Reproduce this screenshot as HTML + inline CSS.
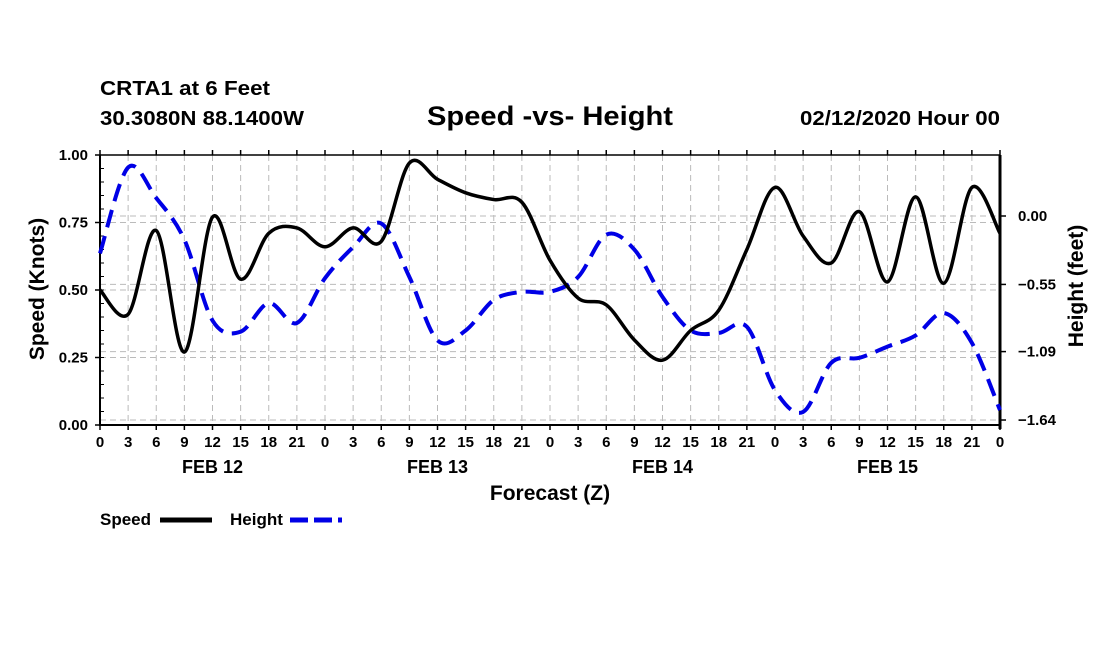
<!DOCTYPE html>
<html><head><meta charset="utf-8"><style>
body{margin:0;background:#fff;width:1100px;height:650px;overflow:hidden}
svg{font-family:"Liberation Sans",Arial,sans-serif;font-weight:bold}
</style></head><body>
<svg id="chart" width="1100" height="650" xmlns="http://www.w3.org/2000/svg">
<text x="100" y="95" font-size="20" textLength="170" lengthAdjust="spacingAndGlyphs">CRTA1 at 6 Feet</text>
<text x="100" y="125" font-size="20" textLength="204" lengthAdjust="spacingAndGlyphs">30.3080N 88.1400W</text>
<text x="427" y="125" font-size="27" textLength="246" lengthAdjust="spacingAndGlyphs">Speed -vs- Height</text>
<text x="800" y="125" font-size="20" textLength="200" lengthAdjust="spacingAndGlyphs">02/12/2020 Hour 00</text>
<g id="grid"></g>
<g id="axes"></g>
<g id="series"></g>
<text transform="translate(44,289) rotate(-90)" font-size="21" text-anchor="middle">Speed (Knots)</text>
<text transform="translate(1083,286) rotate(-90)" font-size="21" text-anchor="middle">Height (feet)</text>
<text x="550" y="500" font-size="21" text-anchor="middle">Forecast (Z)</text>
<g>
<text x="100" y="525" font-size="17">Speed</text>
<line x1="160" y1="520" x2="212" y2="520" stroke="#000" stroke-width="5"/>
<text x="230" y="525" font-size="17">Height</text>
<line x1="290" y1="520" x2="342" y2="520" stroke="#0000e6" stroke-width="5" stroke-dasharray="18,6"/>
</g>
</svg>
<script>
const hours=[0,3,6,9,12,15,18,21,24,27,30,33,36,39,42,45,48,51,54,57,60,63,66,69,72,75,78,81,84,87,90,93,96];
const speed=[0.50,0.41,0.72,0.27,0.77,0.54,0.71,0.73,0.66,0.73,0.68,0.97,0.91,0.86,0.835,0.825,0.61,0.47,0.445,0.315,0.24,0.35,0.425,0.65,0.88,0.70,0.60,0.79,0.53,0.845,0.525,0.88,0.71];
const height=[-0.30,0.39,0.145,-0.19,-0.84,-0.93,-0.70,-0.86,-0.50,-0.25,-0.06,-0.49,-1.00,-0.92,-0.675,-0.61,-0.61,-0.49,-0.15,-0.27,-0.65,-0.92,-0.94,-0.89,-1.40,-1.575,-1.18,-1.14,-1.05,-0.96,-0.78,-1.02,-1.56];
const leftTicks=[0,0.25,0.5,0.75,1.0];
const rightTicks=[0,-0.55,-1.09,-1.64];
const dayLabels=["FEB 12","FEB 13","FEB 14","FEB 15"];
const NS="http://www.w3.org/2000/svg";
const X0=100,X1=1000,Y0=425,Y1=155;
const xS=h=>X0+(X1-X0)*h/96;
const yL=v=>Y0-(Y0-Y1)*v;
const yR=v=>216-124.4*v;
function mk(t,a,p){const e=document.createElementNS(NS,t);for(const k in a)e.setAttribute(k,a[k]);p.appendChild(e);return e;}
const grid=document.getElementById('grid'),axes=document.getElementById('axes'),ser=document.getElementById('series');
hours.forEach(h=>{const l=mk('line',{x1:xS(h),x2:xS(h),y1:Y1,y2:Y0,stroke:'#bbb','stroke-dasharray':'6,4'},grid);

const t=mk('line',{x1:xS(h),x2:xS(h),y1:Y0,y2:Y0+5,stroke:'#000','stroke-width':1.5},axes);

const tt=mk('line',{x1:xS(h),x2:xS(h),y1:Y1,y2:Y1-5,stroke:'#000','stroke-width':1.5},axes);

const lb=mk('text',{x:xS(h),y:Y0+22,'font-size':15,'text-anchor':'middle'},axes);lb.textContent=String(h%24);
});
dayLabels.forEach((d,i)=>{const t=mk('text',{x:xS(12+24*i),y:Y0+48,'font-size':18,'text-anchor':'middle'},axes);t.textContent=d;
});
leftTicks.forEach(v=>{const l=mk('line',{x1:X0,x2:X1,y1:yL(v),y2:yL(v),stroke:'#bbb','stroke-dasharray':'6,4'},grid);

const lb=mk('text',{x:X0-12,y:yL(v)+5,'font-size':15,'text-anchor':'end'},axes);lb.textContent=v.toFixed(2);

const t=mk('line',{x1:X0-5,x2:X0,y1:yL(v),y2:yL(v),stroke:'#000','stroke-width':1.5},axes);
});
for(let v=0.05;v<1;v+=0.05){const t=mk('line',{x1:X0,x2:X0+4,y1:yL(v),y2:yL(v),stroke:'#000'},axes);
}
rightTicks.forEach(v=>{const l=mk('line',{x1:X0,x2:X1,y1:yR(v),y2:yR(v),stroke:'#bbb','stroke-dasharray':'6,4'},grid);

const lb=mk('text',{x:X1+18,y:yR(v)+5,'font-size':15},axes);lb.textContent=v.toFixed(2).replace('-','\u2212');

const t=mk('line',{x1:X1,x2:X1+6,y1:yR(v),y2:yR(v),stroke:'#000','stroke-width':1.5},axes);
});
const fr=mk('path',{d:`M${X0},${Y1}V${Y0}H${X1}`,fill:'none',stroke:'#000','stroke-width':2},axes);

const tp=mk('line',{x1:X0,x2:X1,y1:Y1,y2:Y1,stroke:'#000','stroke-width':1.5},axes);

const ra=mk('line',{x1:X1,x2:X1,y1:Y1,y2:Y0+4,stroke:'#000','stroke-width':3},axes);

function smooth(pts){let d=`M${pts[0][0]},${pts[0][1]}`;for(let i=0;i<pts.length-1;i++){const p0=pts[Math.max(0,i-1)],p1=pts[i],p2=pts[i+1],p3=pts[Math.min(pts.length-1,i+2)];
d+=`C${p1[0]+(p2[0]-p0[0])/6},${p1[1]+(p2[1]-p0[1])/6} ${p2[0]-(p3[0]-p1[0])/6},${p2[1]-(p3[1]-p1[1])/6} ${p2[0]},${p2[1]}`;}return d;}
const hp=mk('path',{d:smooth(hours.map((h,i)=>[xS(h),yR(height[i])])),fill:'none',stroke:'#0000e6','stroke-width':4,'stroke-dasharray':'18,9'},ser);

const sp=mk('path',{d:smooth(hours.map((h,i)=>[xS(h),yL(speed[i])])),fill:'none',stroke:'#000','stroke-width':3.5},ser);

</script>
</body></html>
